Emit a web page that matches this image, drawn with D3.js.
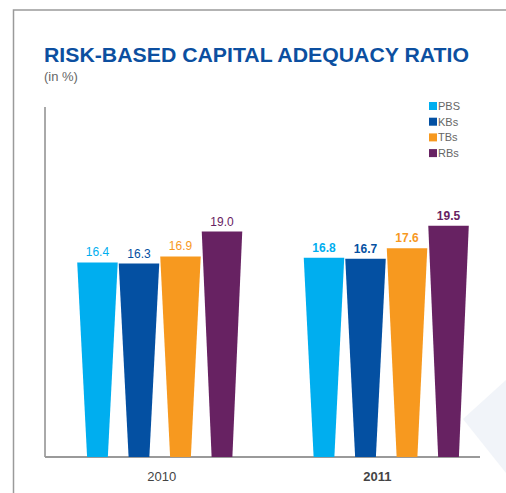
<!DOCTYPE html>
<html>
<head>
<meta charset="utf-8">
<script src="https://cdn.jsdelivr.net/npm/d3@7"></script>
<style>
  body { margin: 0; background: #fff; }
  svg { display: block; font-family: "Liberation Sans", Arial, sans-serif; }
</style>
</head>
<body>
<div class="container"></div>
<script>
// Data
const years = ["2010", "2011"]
const series = ["PBS", "KBs", "TBs", "RBs"]
const values2010 = [16.4, 16.3, 16.9, 19.0]
const values2011 = [16.8, 16.7, 17.6, 19.5]
const colors = ["#00aeef", "#0450a2", "#f7991f", "#672262"]

const data = years.map((y, i) => ({
    year: y,
    values: series.map((s, j) => ({key: s, value: [values2010, values2011][i][j]}))
}))

let outerWidth = 506
let outerHeight = 493

const svg = d3.select(".container")
    .append("svg")
    .attr("width", outerWidth)
    .attr("height", outerHeight)

// Frame
svg.append("path")
    .attr("d", "M13.5,493V10H506")
    .attr("fill", "none")
    .attr("stroke", "#9a9a9a")
    .attr("stroke-width", 1.5)

// Decorative triangle
svg.append("path")
    .attr("d", "M463,419L506,380L506,473Z")
    .attr("fill", "#f1f4f9")

// Title
svg.append("text")
    .text("RISK-BASED CAPITAL ADEQUACY RATIO")
    .attr("x", 44)
    .attr("y", 62)
    .attr("font-size", 21)
    .attr("font-weight", "bold")
    .attr("fill", "#0c4fa0")
    .attr("textLength", 425)
    .attr("lengthAdjust", "spacingAndGlyphs")

svg.append("text")
    .text("(in %)")
    .attr("x", 44)
    .attr("y", 81)
    .attr("font-size", 13)
    .attr("fill", "#666")

// Scales
const yScale = d3.scaleLinear()
    .domain([0, 29.5])
    .range([457, 107])

const x0 = d3.scaleBand()
    .domain(years)
    .range([45, 501])
    .paddingInner(0.267)
    .paddingOuter(0.14)

const x1 = d3.scaleBand()
    .domain(series)
    .range([0, x0.bandwidth()])

const color = d3.scaleOrdinal().domain(series).range(colors)

// Axes
svg.append("line")
    .attr("x1", 45).attr("x2", 45)
    .attr("y1", 107).attr("y2", 457)
    .attr("stroke", "#555")
    .attr("stroke-width", 1)

const xAxis = d3.axisBottom(x0).tickSize(0).tickPadding(15)

let x = svg.append("g")
    .attr("class", "axis x-axis")
    .attr("transform", "translate(0, 457)")
    .call(xAxis)

x.select(".domain").remove()
x.selectAll(".tick text")
    .attr("font-size", 13)
    .attr("font-family", "Liberation Sans, Arial, sans-serif")
    .attr("fill", "#444")
    .attr("font-weight", (d, i) => i === 1 ? "bold" : "normal")
    .attr("dx", (d, i) => i === 1 ? -9 : 2)

svg.append("line")
    .attr("x1", 45).attr("x2", 480)
    .attr("y1", 457).attr("y2", 457)
    .attr("stroke", "#9a9a9a")
    .attr("stroke-width", 2)

// Tapered bars
const groups = svg.selectAll(".group")
    .data(data)
    .enter()
    .append("g")
    .attr("class", "group")
    .attr("transform", d => `translate(${x0(d.year)}, 0)`)

const topW = x1.bandwidth() - 1
const botW = x1.bandwidth() * 0.5

groups.selectAll("path")
    .data(d => d.values)
    .enter()
    .append("path")
    .attr("d", d => {
        const cx = x1(d.key) + x1.bandwidth() / 2
        const yt = yScale(d.value)
        const yb = yScale(0)
        return `M${cx - topW / 2},${yt}L${cx + topW / 2},${yt}L${cx + botW / 2},${yb}L${cx - botW / 2},${yb}Z`
    })
    .attr("fill", d => color(d.key))

groups.each(function(g, gi) {
    d3.select(this).selectAll(".val")
        .data(g.values)
        .enter()
        .append("text")
        .text(d => d.value.toFixed(1))
        .attr("x", d => x1(d.key) + x1.bandwidth() / 2)
        .attr("y", d => yScale(d.value) - 6)
        .attr("text-anchor", "middle")
        .attr("font-size", 12)
        .attr("font-weight", gi === 1 ? "bold" : "normal")
        .attr("fill", d => color(d.key))
})

// Legend
const legend = svg.selectAll(".legend")
    .data(series)
    .enter()
    .append("g")
    .attr("class", "legend")
    .attr("transform", (d, i) => `translate(429, ${102 + i * 15.7})`)

legend.append("rect")
    .attr("width", 8)
    .attr("height", 8)
    .attr("fill", d => color(d))

legend.append("text")
    .text(d => d)
    .attr("x", 9)
    .attr("y", 8)
    .attr("font-size", 11)
    .attr("fill", "#666")
</script>
</body>
</html>
